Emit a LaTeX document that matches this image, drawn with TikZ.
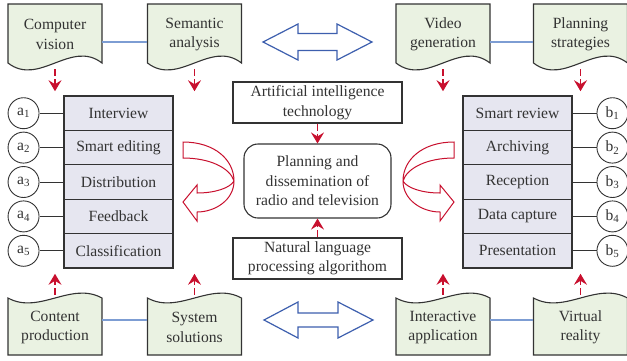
\documentclass[tikz,border=0pt]{standalone}
\usepackage{fontspec}
\setmainfont{Liberation Serif}
\usepackage{xcolor}
\usepackage{tikz}
\usetikzlibrary{arrows.meta,positioning}
\definecolor{docfill}{HTML}{EAF2E2}
\definecolor{rowfill}{HTML}{E6E6F0}
\definecolor{edgec}{HTML}{333333}
\definecolor{redc}{HTML}{C8102E}
\definecolor{bluel}{HTML}{7D9DD3}
\definecolor{blued}{HTML}{3D5FAE}
\tikzset{
  txt/.style={font=\fontsize{15.6}{19.5}\selectfont,text=edgec,align=center},
  doc/.style={draw=edgec,line width=1.1pt,fill=docfill},
  dnode/.style={txt,minimum width=94pt,inner sep=0pt},
  row/.style={txt,draw=edgec,line width=1.1pt,fill=rowfill,minimum width=109pt,minimum height=34.4pt,inner sep=0pt,outer sep=0pt},
  lbl/.style={circle,draw=edgec,line width=0.9pt,fill=white,minimum size=31pt,inner sep=0pt,font=\fontsize{15.6}{17}\selectfont,text=edgec},
  cbox/.style={txt,draw=edgec,line width=1.1pt,minimum width=169pt,minimum height=41pt,inner sep=0pt},
  link/.style={bluel,line width=1.9pt},
  tie/.style={edgec,line width=1pt},
  ar/.style={-{Stealth[length=11pt,width=13pt,inset=4pt]},redc,line width=1.1pt,dash pattern=on 7pt off 3pt},
  twin/.style={draw=blued,line width=1.2pt,fill=white},
  ribbon/.style={draw=redc,line width=1pt,fill=white}
}

\begin{document}
\begin{tikzpicture}[x=1pt,y=-1pt]
\useasboundingbox (0,0) rectangle (627,360);

% documents, wavy bottom edge
\foreach \x/\nm/\txt in {55/cv/{Computer\\vision},194.5/sa/{Semantic\\analysis},443/vg/{Video\\generation},580.5/ps/{Planning\\strategies}}{
  \filldraw[doc] (\x-47,4) -- (\x+47,4) -- (\x+47,63) .. controls (\x+16,39) and (\x-16,87) .. (\x-47,63) -- cycle;
  \node[dnode,minimum height=59pt] (\nm) at (\x,34.5) {\txt};
}
% documents, wavy top edge
\foreach \x/\nm/\txt in {55/cp/{Content\\production},194.5/ss/{System\\solutions},443/ia/{Interactive\\application},580.5/vr/{Virtual\\reality}}{
  \filldraw[doc] (\x-47,355) -- (\x-47,298) .. controls (\x-16,315) and (\x+16,281) .. (\x+47,298) -- (\x+47,355) -- cycle;
  \node[dnode,minimum height=57pt] (\nm) at (\x,327.5) {\txt};
}
\draw[link] ([yshift=-7.5pt]cv.east) -- ([yshift=-7.5pt]sa.west);
\draw[link] ([yshift=-7.5pt]vg.east) -- ([yshift=-7.5pt]ps.west);
\draw[link] ([yshift=7.5pt]cp.east) -- ([yshift=7.5pt]ss.west);
\draw[link] ([yshift=7.5pt]ia.east) -- ([yshift=7.5pt]vr.west);

\foreach \nm in {cv,sa,vg,ps}
  \draw[ar] (\nm.south) ++(0,5) -- ++(0,22);
\foreach \nm in {cp,ss,ia,vr}
  \draw[ar] (\nm.north) ++(0,-4) -- ++(0,-21);

% left and right lists
\node[row] (iv) at (118.5,113.2) {Interview};
\node[row,below=0pt of iv] (se) {Smart editing};
\node[row,below=0pt of se] (di) {Distribution};
\node[row,below=0pt of di] (fb) {Feedback};
\node[row,below=0pt of fb] (cl) {Classification};

\node[row] (sr) at (517.5,113.2) {Smart review};
\node[row,below=0pt of sr] (av) {Archiving};
\node[row,below=0pt of av] (rc) {Reception};
\node[row,below=0pt of rc] (dc) {Data capture};
\node[row,below=0pt of dc] (pr) {Presentation};

\foreach \i/\r in {1/iv,2/se,3/di,4/fb,5/cl}{
  \node[lbl,left=24.5pt of \r] (a\i) {a\textsubscript{\i}};
  \draw[tie] (a\i) -- (\r);
}
\foreach \i/\r in {1/sr,2/av,3/rc,4/dc,5/pr}{
  \node[lbl,right=24.5pt of \r] (b\i) {b\textsubscript{\i}};
  \draw[tie] (\r) -- (b\i);
}

% centre
\node[cbox] (ai) at (317.5,102.5) {Artificial intelligence\\technology};
\node[cbox,rounded corners=14pt,minimum width=147pt,minimum height=74pt] (pd) at (317.5,181) {Planning and\\dissemination of\\radio and television};
\node[cbox] (nl) at (317.5,258.5) {Natural language\\processing algorithom};
\draw[ar] (ai) -- (pd);
\draw[ar] (nl) -- (pd);

% two-headed block arrows
\filldraw[twin] (263,42) -- (298,24) -- (298,33.5) -- (337,33.5) -- (337,24) -- (372,42)
  -- (337,60) -- (337,50.5) -- (298,50.5) -- (298,60) -- cycle;
\filldraw[twin] (264,320) -- (298,302) -- (298,313) -- (338,313) -- (338,302) -- (373,320)
  -- (338,338) -- (338,327) -- (298,327) -- (298,338) -- cycle;

% turning ribbons
\filldraw[ribbon] (183,142) .. controls (215,142) and (234,160) .. (234,181)
  .. controls (234,200) and (215,212) .. (197,212) -- (197,221) -- (183,202) -- (197,185) -- (197,193)
  .. controls (215,193) and (230,188) .. (234,181)
  .. controls (230,168) and (210,158) .. (183,158) -- cycle;
\filldraw[ribbon] (454,142) .. controls (422,142) and (403,160) .. (403,181)
  .. controls (403,200) and (422,212) .. (440,212) -- (440,221) -- (454,202) -- (440,185) -- (440,193)
  .. controls (422,193) and (407,188) .. (403,181)
  .. controls (407,168) and (427,158) .. (454,158) -- cycle;
\end{tikzpicture}
\end{document}
